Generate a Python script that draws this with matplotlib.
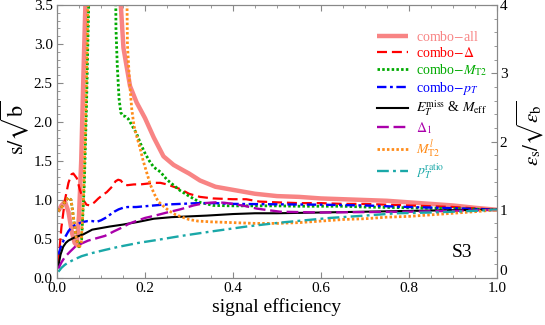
import matplotlib
matplotlib.use("Agg")
import matplotlib.pyplot as plt
from matplotlib.ticker import MultipleLocator, FuncFormatter

plt.rcParams["font.family"] = ["Liberation Serif", "DejaVu Serif"]
plt.rcParams["mathtext.fontset"] = "stix"

# ── Data ──────────────────────────────────────────────────────
all_x = [0.002, 0.01, 0.018, 0.026, 0.034, 0.04, 0.045, 0.05, 0.055, 0.06, 0.065, 0.07,
         0.136, 0.145, 0.151, 0.158, 0.166, 0.181, 0.2, 0.22, 0.242, 0.265, 0.287, 0.3,
         0.325, 0.36, 0.4, 0.45, 0.5, 0.55, 0.6, 0.65, 0.7, 0.75, 0.8, 0.85, 0.9, 0.95, 1.0]
all_y = [0.85, 0.93, 0.98, 0.85, 0.58, 0.45, 0.42, 0.8, 1.5, 2.6, 3.6, 6.0,
         6.0, 3.5, 2.95, 2.72, 2.46, 2.25, 2.05, 1.8, 1.56, 1.45, 1.38, 1.34,
         1.25, 1.17, 1.13, 1.08, 1.05, 1.04, 1.02, 1.01, 1.0, 0.99, 0.97, 0.95, 0.93, 0.9, 0.875]

delta_x = [0.003, 0.01, 0.018, 0.026, 0.033, 0.037, 0.045, 0.052, 0.06, 0.067, 0.075, 0.085,
           0.094, 0.105, 0.113, 0.125, 0.133, 0.139, 0.145, 0.152, 0.16, 0.175, 0.19, 0.205,
           0.22, 0.235, 0.25, 0.265, 0.28, 0.3, 0.325, 0.355, 0.4, 0.43, 0.46, 0.5, 0.55,
           0.6, 0.65, 0.7, 0.8, 0.9, 1.0]
delta_y = [0.19, 0.65, 1.0, 1.22, 1.33, 1.34, 1.28, 1.13, 1.0, 0.94, 0.93, 0.97,
           1.02, 1.07, 1.1, 1.17, 1.24, 1.26, 1.25, 1.2, 1.19, 1.2, 1.2, 1.21,
           1.22, 1.22, 1.2, 1.17, 1.14, 1.08, 1.04, 1.02, 1.01, 1.01, 0.98, 0.97, 0.96,
           0.96, 0.95, 0.95, 0.93, 0.91, 0.875]

mt2_x = [0.002, 0.01, 0.018, 0.026, 0.032, 0.038, 0.044, 0.05, 0.056, 0.062, 0.067, 0.072, 0.077,
         0.13, 0.134, 0.137, 0.141, 0.145, 0.15, 0.156, 0.162, 0.17, 0.181, 0.19, 0.2, 0.21,
         0.22, 0.235, 0.25, 0.265, 0.28, 0.3, 0.325, 0.355, 0.4, 0.45, 0.5, 0.55, 0.6, 0.65,
         0.7, 0.8, 0.9, 1.0]
mt2_y = [0.86, 0.9, 0.98, 1.03, 1.0, 0.75, 0.5, 0.4, 0.5, 1.2, 2.2, 3.5, 6.0,
         6.0, 3.2, 2.72, 2.3, 2.12, 2.08, 2.07, 2.04, 1.96, 1.85, 1.72, 1.6, 1.5,
         1.42, 1.36, 1.26, 1.19, 1.12, 1.05, 0.97, 0.93, 0.925, 0.925, 0.925, 0.92, 0.92, 0.92,
         0.91, 0.9, 0.89, 0.875]

pt_x = [0.003, 0.01, 0.018, 0.026, 0.033, 0.041, 0.05, 0.06, 0.07, 0.08, 0.09, 0.1, 0.11,
        0.12, 0.13, 0.14, 0.15, 0.16, 0.18, 0.2, 0.24, 0.28, 0.32, 0.36, 0.4, 0.5, 0.6,
        0.7, 0.8, 0.9, 1.0]
pt_y = [0.3, 0.42, 0.52, 0.6, 0.65, 0.68, 0.7, 0.72, 0.73, 0.73, 0.72, 0.74, 0.77,
        0.81, 0.85, 0.88, 0.9, 0.91, 0.91, 0.92, 0.94, 0.95, 0.96, 0.96, 0.95, 0.945, 0.94,
        0.93, 0.91, 0.895, 0.875]

emiss_x = [0.003, 0.008, 0.014, 0.02, 0.026, 0.033, 0.04, 0.05, 0.06, 0.07, 0.08, 0.09, 0.1,
           0.12, 0.15, 0.165, 0.185, 0.22, 0.26, 0.3, 0.34, 0.4, 0.45, 0.5, 0.6, 0.7, 0.8,
           0.9, 1.0]
emiss_y = [0.15, 0.3, 0.4, 0.45, 0.48, 0.5, 0.52, 0.54, 0.56, 0.59, 0.62, 0.63, 0.64,
           0.66, 0.685, 0.7, 0.72, 0.76, 0.78, 0.79, 0.8, 0.82, 0.83, 0.83, 0.84, 0.85, 0.86,
           0.87, 0.875]

delta1_x = [0.003, 0.01, 0.018, 0.03, 0.041, 0.055, 0.071, 0.09, 0.109, 0.13, 0.147, 0.165,
            0.185, 0.2, 0.223, 0.25, 0.28, 0.31, 0.335, 0.36, 0.38, 0.4, 0.43, 0.454, 0.48,
            0.507, 0.55, 0.6, 0.7, 0.8, 0.9, 1.0]
delta1_y = [0.12, 0.2, 0.27, 0.34, 0.4, 0.44, 0.48, 0.51, 0.54, 0.6, 0.645, 0.7,
            0.74, 0.77, 0.8, 0.84, 0.88, 0.93, 0.96, 0.97, 0.965, 0.95, 0.92, 0.89, 0.87,
            0.85, 0.845, 0.84, 0.845, 0.85, 0.86, 0.875]

mt2l_x = [0.002, 0.01, 0.018, 0.026, 0.032, 0.038, 0.044, 0.05, 0.055, 0.06, 0.065, 0.07, 0.075,
          0.155, 0.16, 0.165, 0.17, 0.175, 0.181, 0.189, 0.196, 0.204, 0.212, 0.22, 0.23,
          0.242, 0.255, 0.27, 0.28, 0.3, 0.32, 0.35, 0.4, 0.45, 0.5, 0.55, 0.6, 0.65, 0.7,
          0.75, 0.8, 0.85, 0.9, 0.95, 1.0]
mt2l_y = [0.86, 0.9, 0.98, 1.03, 1.0, 0.75, 0.5, 0.38, 0.45, 1.0, 2.0, 3.4, 6.0,
          6.0, 3.0, 2.5, 2.16, 1.95, 1.82, 1.66, 1.5, 1.35, 1.2, 1.09, 0.98,
          0.92, 0.86, 0.81, 0.79, 0.75, 0.73, 0.72, 0.71, 0.7, 0.7, 0.71, 0.73, 0.75, 0.76,
          0.78, 0.79, 0.81, 0.83, 0.85, 0.875]

ratio_x = [0.003, 0.01, 0.018, 0.026, 0.04, 0.056, 0.08, 0.109, 0.14, 0.185, 0.23, 0.283,
           0.355, 0.431, 0.507, 0.62, 0.7, 0.772, 0.85, 0.923, 1.0]
ratio_y = [0.08, 0.13, 0.17, 0.2, 0.24, 0.28, 0.32, 0.36, 0.4, 0.45, 0.49, 0.54,
           0.6, 0.66, 0.71, 0.77, 0.8, 0.83, 0.84, 0.855, 0.875]

labels = [r"combo$-$all", r"combo$-\Delta$", r"combo$-M_{\rm T2}$", r"combo$-p_T$",
          r"$E_T^{\rm miss}$ & $M_{\rm eff}$", r"$\Delta_1$", r"$M_{\rm T2}^{l}$",
          r"$p_T^{\rm ratio}$"]

# right axis is s/sqrt(b) normalised to its value at full efficiency
Y_FULL = 0.875
# ──────────────────────────────────────────────────────────────

fig = plt.figure(figsize=(5.45, 3.25), dpi=100)
ax = fig.add_axes([0.1046, 0.1446, 0.8073, 0.8400])

ax.plot(all_x, all_y, color="#f88484", lw=3.2, solid_capstyle="butt", label=labels[0])
ax.plot(delta_x, delta_y, color="#ff0000", lw=1.6, dashes=(4.5, 2.2), label=labels[1])
ax.plot(mt2_x, mt2_y, color="#00aa00", lw=2.0, dashes=(0.9, 0.8), label=labels[2])
ax.plot(pt_x, pt_y, color="#0000ff", lw=1.7, dashes=(4, 1.5, 1.2, 1.5), label=labels[3])
ax.plot(emiss_x, emiss_y, color="black", lw=1.5, label=labels[4])
ax.plot(delta1_x, delta1_y, color="#aa00aa", lw=1.7, dashes=(5, 2), label=labels[5])
ax.plot(mt2l_x, mt2l_y, color="#ff8c1a", lw=2.0, dashes=(0.9, 0.8), label=labels[6])
ax.plot(ratio_x, ratio_y, color="#1aa8a8", lw=1.7, dashes=(5, 1.8, 1.2, 1.8), label=labels[7])

ax.set_xlim(0, 1)
ax.set_ylim(0, 3.5)
ax.xaxis.set_major_locator(MultipleLocator(0.2))
ax.xaxis.set_minor_locator(MultipleLocator(0.05))
ax.yaxis.set_major_locator(MultipleLocator(0.5))
ax.yaxis.set_minor_locator(MultipleLocator(0.1))
ax.xaxis.set_major_formatter(plt.FormatStrFormatter("%.1f"))
ax.yaxis.set_major_formatter(plt.FormatStrFormatter("%.1f"))
ax.tick_params(which="both", direction="in", top=True, right=False, color="#888888",
               labelsize=11, pad=3)
ax.tick_params(which="major", length=4)
ax.tick_params(which="minor", length=2)
for sp in ax.spines.values():
    sp.set_color("#888888")

ax2 = ax.twinx()
ax2.set_ylim(0, 3.5 / Y_FULL)
ax2.yaxis.set_major_locator(MultipleLocator(1))
ax2.yaxis.set_minor_locator(MultipleLocator(0.2))
# the "0" is drawn separately, lifted a bit above the x-axis "1.0"
ax2.yaxis.set_major_formatter(FuncFormatter(lambda v, pos: "" if v == 0 else f"{v:.0f}"))
ax2.tick_params(which="both", direction="in", color="#888888", labelsize=11, pad=2)
ax2.tick_params(which="major", length=4)
ax2.tick_params(which="minor", length=2)
for sp in ax2.spines.values():
    sp.set_color("#888888")
ax2.annotate("0", xy=(1, 0), xycoords="axes fraction", xytext=(2, 0),
             textcoords="offset points", ha="left", va="bottom", fontsize=11)

ax.set_xlabel("signal efficiency", fontsize=14, labelpad=2)
ax.set_ylabel(r"$\mathrm{s}/\sqrt{\mathrm{b}}$", fontsize=16)
ax.yaxis.set_label_coords(-0.058, 0.55)
ax2.set_ylabel(r"$\epsilon_{\rm s}/\sqrt{\epsilon_{\rm b}}$", fontsize=15)
ax2.yaxis.set_label_coords(1.04, 0.53)

ax.text(0.92, 0.33, "S3", fontsize=14, ha="center", va="center")

leg = ax.legend(loc="upper right", bbox_to_anchor=(1.0, 0.945), frameon=False,
                fontsize=10, handlelength=2.2, handletextpad=0.6, labelspacing=0.15,
                labelcolor="linecolor", borderaxespad=0.3)

fig.savefig("out.png", dpi=100)
